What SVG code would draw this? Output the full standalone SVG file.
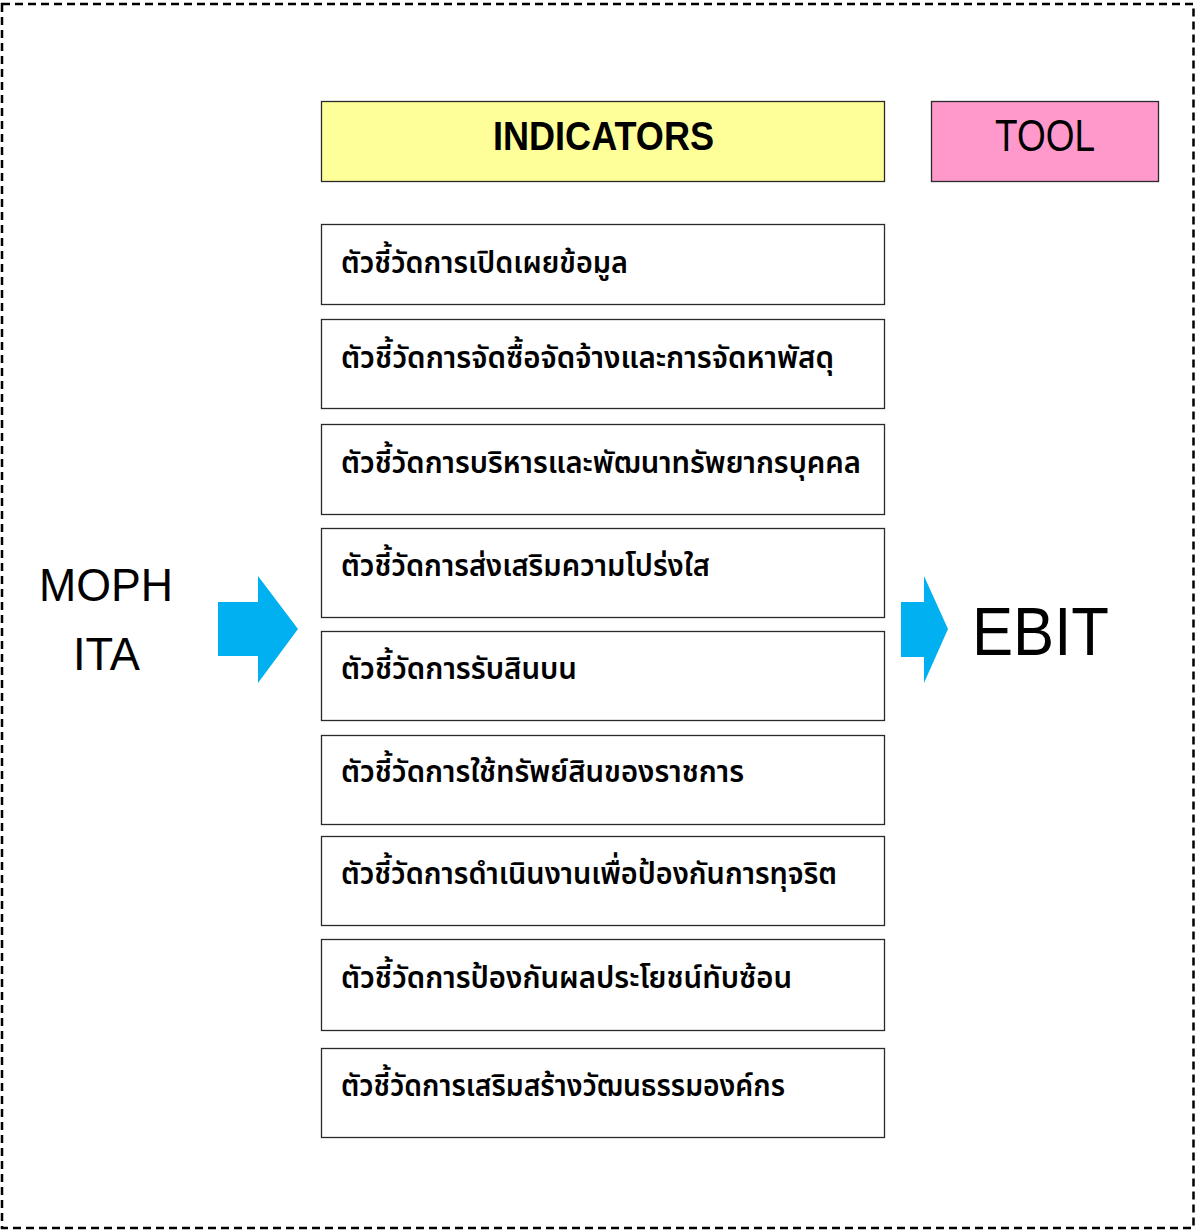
<svg xmlns="http://www.w3.org/2000/svg" width="1195" height="1230" viewBox="0 0 1195 1230">
<style>
.frame{fill:none;stroke:#000;stroke-width:2.5;stroke-dasharray:8 5}
.box{fill:#fff;stroke:#2a2a2a;stroke-width:1.3}
.hdr{stroke:#2a2a2a;stroke-width:1.3}
.th{font-family:"Noto Sans Thai","Noto Sans","Liberation Sans",sans-serif;font-size:31px;font-weight:600;fill:#000}
.lat{font-family:"Liberation Sans","Noto Sans",sans-serif;fill:#000}
.arrow{fill:#00B0F0}
</style>
<rect class="frame" x="2" y="4" width="1191.5" height="1224"/>
<g id="indicators-header">
<rect class="hdr" x="321.5" y="101.5" width="563" height="80" fill="#FFFF99"/>
<text class="lat" x="603.5" y="150" font-size="40" font-weight="bold" text-anchor="middle" textLength="221" lengthAdjust="spacingAndGlyphs">INDICATORS</text>
</g>
<g id="tool-header">
<rect class="hdr" x="931.5" y="101.5" width="227" height="80" fill="#FF99CC"/>
<text class="lat" x="1045" y="150.5" font-size="44" text-anchor="middle" textLength="100" lengthAdjust="spacingAndGlyphs">TOOL</text>
</g>
<g id="source">
<text class="lat" x="106" y="601" font-size="46" text-anchor="middle" textLength="134" lengthAdjust="spacingAndGlyphs">MOPH</text>
<text class="lat" x="106.5" y="670" font-size="46" text-anchor="middle" textLength="67" lengthAdjust="spacingAndGlyphs">ITA</text>
</g>
<g id="output">
<text class="lat" x="1040.5" y="655" font-size="68" text-anchor="middle" textLength="137" lengthAdjust="spacingAndGlyphs">EBIT</text>
</g>
<g id="connectors">
<polygon class="arrow" points="218,602 258,602 258,576 298,629 258,683 258,656 218,656"/>
<polygon class="arrow" points="901,602 924,602 924,576 948,629 924,683 924,657 901,657"/>
</g>
<g id="ind1"><rect class="box" x="321.5" y="224.5" width="563" height="80"/><text class="th" x="341" y="273" textLength="287" lengthAdjust="spacingAndGlyphs">ตัวชี้วัดการเปิดเผยข้อมูล</text></g>
<g id="ind2"><rect class="box" x="321.5" y="319.5" width="563" height="89"/><text class="th" x="341" y="368" textLength="493" lengthAdjust="spacingAndGlyphs">ตัวชี้วัดการจัดซื้อจัดจ้างและการจัดหาพัสดุ</text></g>
<g id="ind3"><rect class="box" x="321.5" y="424.5" width="563" height="90"/><text class="th" x="341" y="473" textLength="520" lengthAdjust="spacingAndGlyphs">ตัวชี้วัดการบริหารและพัฒนาทรัพยากรบุคคล</text></g>
<g id="ind4"><rect class="box" x="321.5" y="528.5" width="563" height="89"/><text class="th" x="341" y="576" textLength="369" lengthAdjust="spacingAndGlyphs">ตัวชี้วัดการส่งเสริมความโปร่งใส</text></g>
<g id="ind5"><rect class="box" x="321.5" y="631.5" width="563" height="89"/><text class="th" x="341" y="679" textLength="236" lengthAdjust="spacingAndGlyphs">ตัวชี้วัดการรับสินบน</text></g>
<g id="ind6"><rect class="box" x="321.5" y="735.5" width="563" height="89"/><text class="th" x="341" y="782" textLength="403" lengthAdjust="spacingAndGlyphs">ตัวชี้วัดการใช้ทรัพย์สินของราชการ</text></g>
<g id="ind7"><rect class="box" x="321.5" y="836.5" width="563" height="89"/><text class="th" x="341" y="884" textLength="496" lengthAdjust="spacingAndGlyphs">ตัวชี้วัดการดำเนินงานเพื่อป้องกันการทุจริต</text></g>
<g id="ind8"><rect class="box" x="321.5" y="939.5" width="563" height="91"/><text class="th" x="341" y="988" textLength="451" lengthAdjust="spacingAndGlyphs">ตัวชี้วัดการป้องกันผลประโยชน์ทับซ้อน</text></g>
<g id="ind9"><rect class="box" x="321.5" y="1048.5" width="563" height="89"/><text class="th" x="341" y="1096" textLength="444" lengthAdjust="spacingAndGlyphs">ตัวชี้วัดการเสริมสร้างวัฒนธรรมองค์กร</text></g>
</svg>
